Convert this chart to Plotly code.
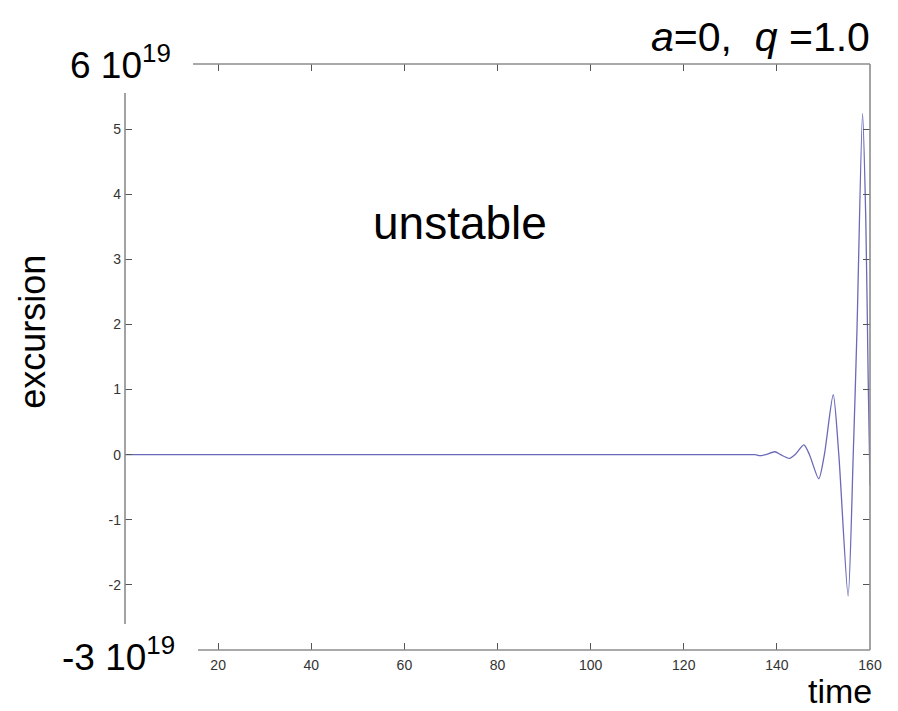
import plotly.graph_objects as go

# Excursion of the trajectory (units of 1e19) against time
time_s = [0, 134.5, 135.3, 136.4, 137.6, 139.6, 140.8, 142.7, 143.9, 145.8, 147.0,
          149.0, 150.2, 152.1, 153.3, 155.3, 156.4, 157.2, 158.4, 159.1, 159.6, 160.0]
excursion_e19 = [0, 0, 0, -0.015, 0, 0.045, 0, -0.057, 0, 0.15, 0,
                 -0.37, 0, 0.92, 0, -2.17, 0, 1.9, 5.24, 3.6, 1.2, -0.47]

x_ticks = [20, 40, 60, 80, 100, 120, 140, 160]
y_ticks = [-2, -1, 0, 1, 2, 3, 4, 5]
y_tick_text = [str(v) for v in y_ticks]
x_range = [0, 160]
y_range = [-3, 6]

FONT = "Liberation Sans, Arial, Helvetica, sans-serif"
AXIS_GREY = "#8c8c8c"
TICK_GREY = "#555555"

fig = go.Figure()
fig.add_trace(go.Scatter(
    x=time_s, y=excursion_e19, mode="lines",
    line=dict(color="#6a6ab8", width=1.3, shape="spline", smoothing=0.7),
    showlegend=False, hoverinfo="skip"))
# companion trace so the mirrored top/right tick axes are laid out
fig.add_trace(go.Scatter(
    x=time_s, y=excursion_e19, mode="lines", xaxis="x2", yaxis="y2",
    line=dict(color="rgba(0,0,0,0)", width=0), showlegend=False, hoverinfo="skip"))

common = dict(showgrid=False, zeroline=False, showline=False,
              ticks="inside", ticklen=7, tickwidth=1, tickcolor=TICK_GREY)

fig.update_layout(
    width=898, height=711,
    margin=dict(l=125, r=28, t=64, b=61),
    paper_bgcolor="white", plot_bgcolor="white",
    font=dict(family=FONT, color="#000"),
    xaxis=dict(range=x_range, domain=[0, 1], tickvals=x_ticks,
               tickfont=dict(size=14, color="#333"), ticklabelstandoff=5, **common),
    xaxis2=dict(range=x_range, overlaying="x", side="top", anchor="y",
                tickvals=x_ticks, showticklabels=False, **common),
    yaxis=dict(range=y_range, domain=[0, 1], tickvals=y_ticks, ticktext=y_tick_text,
               tickfont=dict(size=14, color="#333"), ticklabelstandoff=3, **common),
    yaxis2=dict(range=y_range, overlaying="y", side="right", anchor="x",
                tickvals=y_ticks, showticklabels=False, **common),
)

# frame lines
line_style = dict(color=AXIS_GREY, width=1.6)
fig.add_shape(type="line", xref="paper", yref="paper", x0=0, x1=0,
              y0=0.0444, y1=0.9505, line=line_style)
fig.add_shape(type="line", xref="paper", yref="paper", x0=0.0913, x1=1,
              y0=1, y1=1, line=line_style)
fig.add_shape(type="line", xref="paper", yref="paper", x0=0.098, x1=1,
              y0=0, y1=0, line=line_style)
fig.add_shape(type="line", xref="paper", yref="paper", x0=1, x1=1,
              y0=0, y1=1, line=line_style)

big = dict(family=FONT, size=36, color="#000")
fig.add_annotation(text="6 10<sup>19</sup>", xref="paper", yref="y",
                   x=0.0644, y=6, yshift=2, xanchor="right", yanchor="middle",
                   showarrow=False, font=dict(family=FONT, size=37, color="#000"))
fig.add_annotation(text="-3 10<sup>19</sup>", xref="paper", yref="y",
                   x=0.0698, y=-3, yshift=-4, xanchor="right", yanchor="middle",
                   showarrow=False, font=dict(family=FONT, size=37, color="#000"))
fig.add_annotation(text="<i>a</i>=0,  <i>q</i> =1.0", xref="paper", yref="paper",
                   x=1.003, y=1.046, xanchor="right", yanchor="middle",
                   showarrow=False, font=dict(family=FONT, size=41, color="#000"))
fig.add_annotation(text="unstable", xref="x", yref="y",
                   x=72, y=3.56, xanchor="center", yanchor="middle",
                   showarrow=False, font=dict(family=FONT, size=46, color="#000"))
fig.add_annotation(text="excursion", xref="paper", yref="paper",
                   x=-0.1235, y=0.543, textangle=-90, xanchor="center", yanchor="middle",
                   showarrow=False, font=big)
fig.add_annotation(text="time", xref="paper", yref="paper",
                   x=1.004, y=0, yshift=-61, xanchor="right", yanchor="bottom",
                   borderpad=0, showarrow=False,
                   font=dict(family=FONT, size=34, color="#000"))

fig.write_html("out.html")
